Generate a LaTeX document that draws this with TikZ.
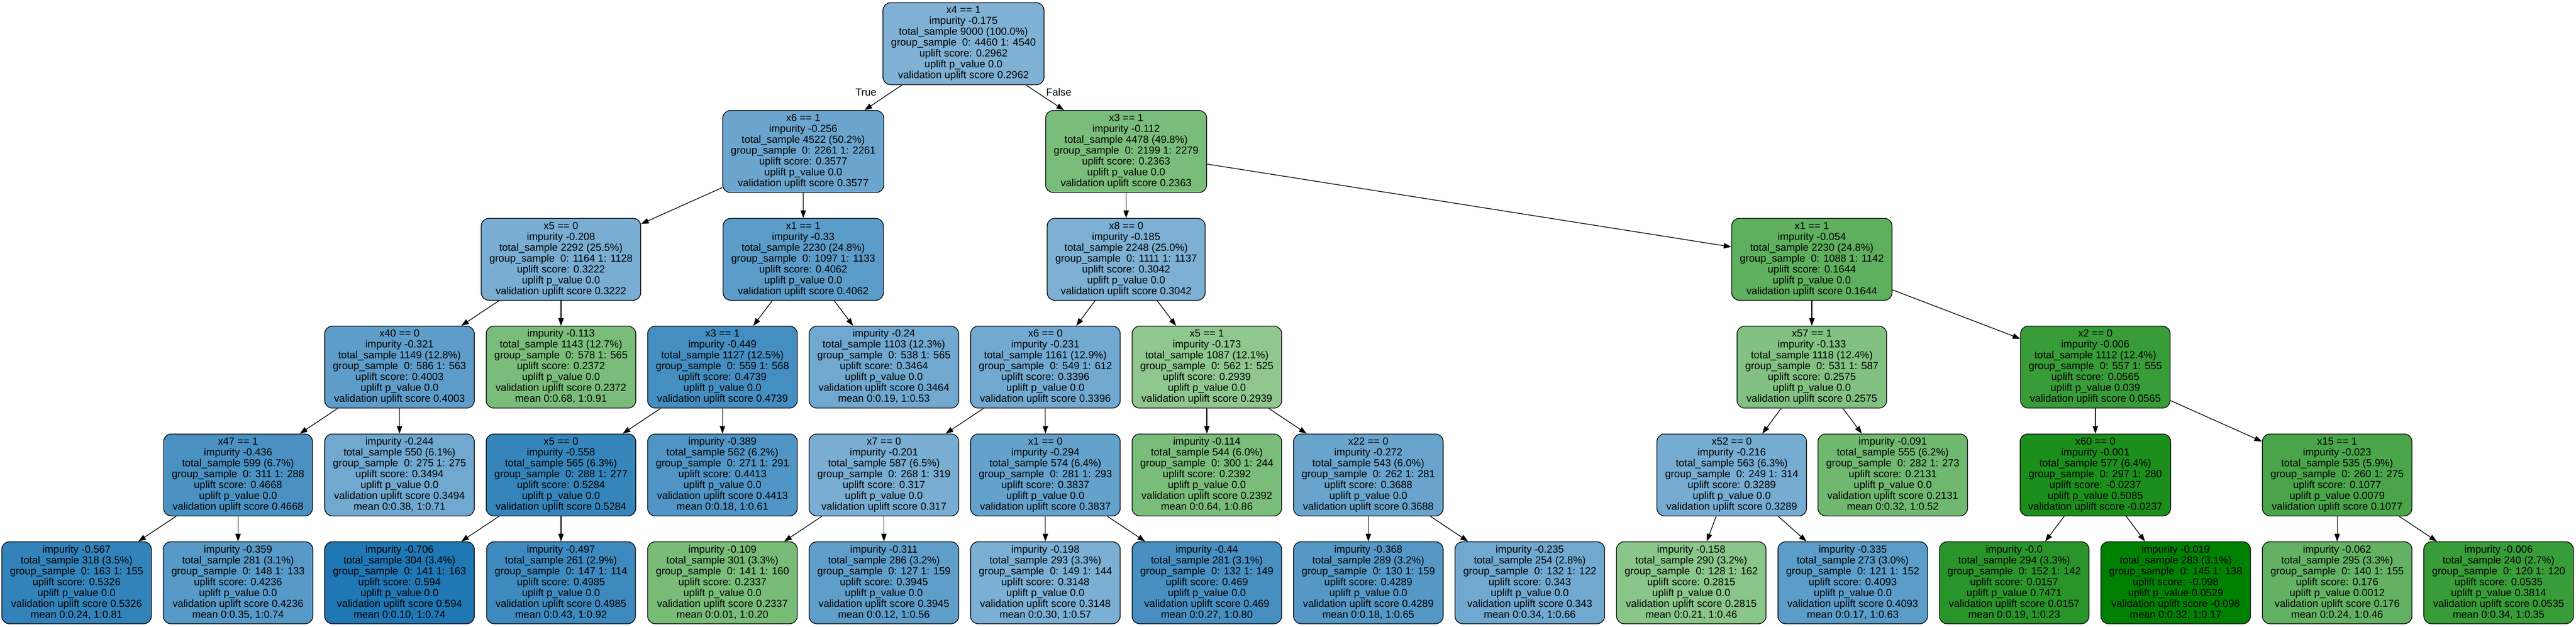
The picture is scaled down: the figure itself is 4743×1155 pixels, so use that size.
\documentclass[tikz,border=0pt]{standalone}
\usepackage{fontspec}
\setmainfont{Liberation Sans}
\usetikzlibrary{arrows.meta}
\definecolor{uB}{HTML}{1F77B4}
\definecolor{uG}{HTML}{008000}
\newcommand{\TRst}{\rule[-5pt]{0pt}{19pt}}
\newcommand{\TRbody}[5]{impurity #1\\total\_sample #2\\group\_sample~ #3\\uplift score: #4\\uplift p\_value #5\\validation uplift score #4}
\begin{document}
\begin{tikzpicture}[x=1pt,y=-1pt,
  tn/.style={draw=black, line width=1.3pt, rounded corners=14pt, align=center, inner xsep=15pt, inner ysep=0pt, minimum height=151pt, font=\fontsize{19pt}{20pt}\selectfont},
  conn/.style={draw=black, line width=1.3pt, -{Triangle[length=14pt,width=10pt]}},
  lab/.style={font=\fontsize{19pt}{20pt}\selectfont, inner sep=0pt}]
\fill[white] (0,0) rectangle (4743,1155);
\useasboundingbox (0,0) rectangle (4743,1155);
% row 1
\node[tn, fill=uB!57] (r) at (1774,80.5) {\TRst x4 == 1\\\TRbody{-0.175}{9000 (100.0\%)}{0: 4460 1: 4540}{0.2962}{0.0}\TRst};
% row 2
\node[tn, fill=uB!66] (a) at (1479,279.1) {\TRst x6 == 1\\\TRbody{-0.256}{4522 (50.2\%)}{0: 2261 1: 2261}{0.3577}{0.0}\TRst};
\node[tn, fill=uG!52] (b) at (2073.5,279.1) {\TRst x3 == 1\\\TRbody{-0.112}{4478 (49.8\%)}{0: 2199 1: 2279}{0.2363}{0.0}\TRst};
% row 3
\node[tn, fill=uB!60] (aa) at (1032.9,477.7) {\TRst x5 == 0\\\TRbody{-0.208}{2292 (25.5\%)}{0: 1164 1: 1128}{0.3222}{0.0}\TRst};
\node[tn, fill=uB!73] (ab) at (1478.9,477.7) {\TRst x1 == 1\\\TRbody{-0.33}{2230 (24.8\%)}{0: 1097 1: 1133}{0.4062}{0.0}\TRst};
\node[tn, fill=uB!58] (ba) at (2073.5,477.7) {\TRst x8 == 0\\\TRbody{-0.185}{2248 (25.0\%)}{0: 1111 1: 1137}{0.3042}{0.0}\TRst};
\node[tn, fill=uG!63] (bb) at (3336,477.7) {\TRst x1 == 1\\\TRbody{-0.054}{2230 (24.8\%)}{0: 1088 1: 1142}{0.1644}{0.0}\TRst};
% row 4
\node[tn, fill=uB!72] (aaa) at (735.6,676.3) {\TRst x40 == 0\\\TRbody{-0.321}{1149 (12.8\%)}{0: 586 1: 563}{0.4003}{0.0}\TRst};
\node[tn, fill=uG!52] (aab) at (1032.9,676.3) {\TRst\TRbody{-0.113}{1143 (12.7\%)}{0: 578 1: 565}{0.2372}{0.0}\\mean 0:0.68, 1:0.91\TRst};
\node[tn, fill=uB!83] (aba) at (1330.2,676.3) {\TRst x3 == 1\\\TRbody{-0.449}{1127 (12.5\%)}{0: 559 1: 568}{0.4739}{0.0}\TRst};
\node[tn, fill=uB!64] (abb) at (1627.5,676.3) {\TRst\TRbody{-0.24}{1103 (12.3\%)}{0: 538 1: 565}{0.3464}{0.0}\\mean 0:0.19, 1:0.53\TRst};
\node[tn, fill=uB!63] (baa) at (1924.8,676.3) {\TRst x6 == 0\\\TRbody{-0.231}{1161 (12.9\%)}{0: 549 1: 612}{0.3396}{0.0}\TRst};
\node[tn, fill=uG!44] (bab) at (2222.1,676.3) {\TRst x5 == 1\\\TRbody{-0.173}{1087 (12.1\%)}{0: 562 1: 525}{0.2939}{0.0}\TRst};
\node[tn, fill=uG!49] (bba) at (3336,676.3) {\TRst x57 == 1\\\TRbody{-0.133}{1118 (12.4\%)}{0: 531 1: 587}{0.2575}{0.0}\TRst};
\node[tn, fill=uG!78] (bbb) at (3858,676.3) {\TRst x2 == 0\\\TRbody{-0.006}{1112 (12.4\%)}{0: 557 1: 555}{0.0565}{0.039}\TRst};
% row 5
\node[tn, fill=uB!81] (aaaa) at (438.3,874.9) {\TRst x47 == 1\\\TRbody{-0.436}{599 (6.7\%)}{0: 311 1: 288}{0.4668}{0.0}\TRst};
\node[tn, fill=uB!64] (aaab) at (735.6,874.9) {\TRst\TRbody{-0.244}{550 (6.1\%)}{0: 275 1: 275}{0.3494}{0.0}\\mean 0:0.38, 1:0.71\TRst};
\node[tn, fill=uB!90] (abaa) at (1032.9,874.9) {\TRst x5 == 0\\\TRbody{-0.558}{565 (6.3\%)}{0: 288 1: 277}{0.5284}{0.0}\TRst};
\node[tn, fill=uB!78] (abab) at (1330.2,874.9) {\TRst\TRbody{-0.389}{562 (6.2\%)}{0: 271 1: 291}{0.4413}{0.0}\\mean 0:0.18, 1:0.61\TRst};
\node[tn, fill=uB!60] (baaa) at (1627.5,874.9) {\TRst x7 == 0\\\TRbody{-0.201}{587 (6.5\%)}{0: 268 1: 319}{0.317}{0.0}\TRst};
\node[tn, fill=uB!69] (baab) at (1924.8,874.9) {\TRst x1 == 0\\\TRbody{-0.294}{574 (6.4\%)}{0: 281 1: 293}{0.3837}{0.0}\TRst};
\node[tn, fill=uG!52] (baba) at (2222.1,874.9) {\TRst\TRbody{-0.114}{544 (6.0\%)}{0: 300 1: 244}{0.2392}{0.0}\\mean 0:0.64, 1:0.86\TRst};
\node[tn, fill=uB!67] (babb) at (2519.4,874.9) {\TRst x22 == 0\\\TRbody{-0.272}{543 (6.0\%)}{0: 262 1: 281}{0.3688}{0.0}\TRst};
\node[tn, fill=uB!61] (bbaa) at (3188.5,874.9) {\TRst x52 == 0\\\TRbody{-0.216}{563 (6.3\%)}{0: 249 1: 314}{0.3289}{0.0}\TRst};
\node[tn, fill=uG!56] (bbab) at (3485,874.9) {\TRst\TRbody{-0.091}{555 (6.2\%)}{0: 282 1: 273}{0.2131}{0.0}\\mean 0:0.32, 1:0.52\TRst};
\node[tn, fill=uG!89] (bbba) at (3858,874.9) {\TRst x60 == 0\\\TRbody{-0.001}{577 (6.4\%)}{0: 297 1: 280}{-0.0237}{0.5085}\TRst};
\node[tn, fill=uG!71] (bbbb) at (4303.2,874.9) {\TRst x15 == 1\\\TRbody{-0.023}{535 (5.9\%)}{0: 260 1: 275}{0.1077}{0.0079}\TRst};
% row 6
\node[tn, fill=uB!91] (l0) at (141,1073.5) {\TRst\TRbody{-0.567}{318 (3.5\%)}{0: 163 1: 155}{0.5326}{0.0}\\mean 0:0.24, 1:0.81\TRst};
\node[tn, fill=uB!75] (l1) at (438.3,1073.5) {\TRst\TRbody{-0.359}{281 (3.1\%)}{0: 148 1: 133}{0.4236}{0.0}\\mean 0:0.35, 1:0.74\TRst};
\node[tn, fill=uB!100] (l2) at (735.6,1073.5) {\TRst\TRbody{-0.706}{304 (3.4\%)}{0: 141 1: 163}{0.594}{0.0}\\mean 0:0.10, 1:0.74\TRst};
\node[tn, fill=uB!86] (l3) at (1032.9,1073.5) {\TRst\TRbody{-0.497}{261 (2.9\%)}{0: 147 1: 114}{0.4985}{0.0}\\mean 0:0.43, 1:0.92\TRst};
\node[tn, fill=uG!53] (l4) at (1330.2,1073.5) {\TRst\TRbody{-0.109}{301 (3.3\%)}{0: 141 1: 160}{0.2337}{0.0}\\mean 0:0.01, 1:0.20\TRst};
\node[tn, fill=uB!71] (l5) at (1627.5,1073.5) {\TRst\TRbody{-0.311}{286 (3.2\%)}{0: 127 1: 159}{0.3945}{0.0}\\mean 0:0.12, 1:0.56\TRst};
\node[tn, fill=uB!59] (l6) at (1924.8,1073.5) {\TRst\TRbody{-0.198}{293 (3.3\%)}{0: 149 1: 144}{0.3148}{0.0}\\mean 0:0.30, 1:0.57\TRst};
\node[tn, fill=uB!82] (l7) at (2222.1,1073.5) {\TRst\TRbody{-0.44}{281 (3.1\%)}{0: 132 1: 149}{0.469}{0.0}\\mean 0:0.27, 1:0.80\TRst};
\node[tn, fill=uB!76] (l8) at (2519.4,1073.5) {\TRst\TRbody{-0.368}{289 (3.2\%)}{0: 130 1: 159}{0.4289}{0.0}\\mean 0:0.18, 1:0.65\TRst};
\node[tn, fill=uB!64] (l9) at (2816.7,1073.5) {\TRst\TRbody{-0.235}{254 (2.8\%)}{0: 132 1: 122}{0.343}{0.0}\\mean 0:0.34, 1:0.66\TRst};
\node[tn, fill=uG!46] (l10) at (3114,1073.5) {\TRst\TRbody{-0.158}{290 (3.2\%)}{0: 128 1: 162}{0.2815}{0.0}\\mean 0:0.21, 1:0.46\TRst};
\node[tn, fill=uB!73] (l11) at (3411.3,1073.5) {\TRst\TRbody{-0.335}{273 (3.0\%)}{0: 121 1: 152}{0.4093}{0.0}\\mean 0:0.17, 1:0.63\TRst};
\node[tn, fill=uG!84] (l12) at (3708.6,1073.5) {\TRst\TRbody{-0.0}{294 (3.3\%)}{0: 152 1: 142}{0.0157}{0.7471}\\mean 0:0.19, 1:0.23\TRst};
\node[tn, fill=uG!100] (l13) at (4005.9,1073.5) {\TRst\TRbody{-0.019}{283 (3.1\%)}{0: 145 1: 138}{-0.098}{0.0529}\\mean 0:0.32, 1:0.17\TRst};
\node[tn, fill=uG!61] (l14) at (4303.2,1073.5) {\TRst\TRbody{-0.062}{295 (3.3\%)}{0: 140 1: 155}{0.176}{0.0012}\\mean 0:0.24, 1:0.46\TRst};
\node[tn, fill=uG!78] (l15) at (4600.5,1073.5) {\TRst\TRbody{-0.006}{240 (2.7\%)}{0: 120 1: 120}{0.0535}{0.3814}\\mean 0:0.34, 1:0.35\TRst};
% labels
\node[lab] (tT) at (1594.5,170) {True};
\node[lab] (tF) at (1949.5,170) {False};
% edges
\draw[conn] (r) -- (a);
\draw[conn] (r) -- (b);
\draw[conn] (a) -- (aa);
\draw[conn] (a) -- (ab);
\draw[conn] (b) -- (ba);
\draw[conn] (b) -- (bb);
\draw[conn] (aa) -- (aaa);
\draw[conn] (aa) -- (aab);
\draw[conn] (ab) -- (aba);
\draw[conn] (ab) -- (abb);
\draw[conn] (ba) -- (baa);
\draw[conn] (ba) -- (bab);
\draw[conn] (bb) -- (bba);
\draw[conn] (bb) -- (bbb);
\draw[conn] (aaa) -- (aaaa);
\draw[conn] (aaa) -- (aaab);
\draw[conn] (aba) -- (abaa);
\draw[conn] (aba) -- (abab);
\draw[conn] (baa) -- (baaa);
\draw[conn] (baa) -- (baab);
\draw[conn] (bab) -- (baba);
\draw[conn] (bab) -- (babb);
\draw[conn] (bba) -- (bbaa);
\draw[conn] (bba) -- (bbab);
\draw[conn] (bbb) -- (bbba);
\draw[conn] (bbb) -- (bbbb);
\draw[conn] (aaaa) -- (l0);
\draw[conn] (aaaa) -- (l1);
\draw[conn] (abaa) -- (l2);
\draw[conn] (abaa) -- (l3);
\draw[conn] (baaa) -- (l4);
\draw[conn] (baaa) -- (l5);
\draw[conn] (baab) -- (l6);
\draw[conn] (baab) -- (l7);
\draw[conn] (babb) -- (l8);
\draw[conn] (babb) -- (l9);
\draw[conn] (bbaa) -- (l10);
\draw[conn] (bbaa) -- (l11);
\draw[conn] (bbba) -- (l12);
\draw[conn] (bbba) -- (l13);
\draw[conn] (bbbb) -- (l14);
\draw[conn] (bbbb) -- (l15);
\end{tikzpicture}
\end{document}
